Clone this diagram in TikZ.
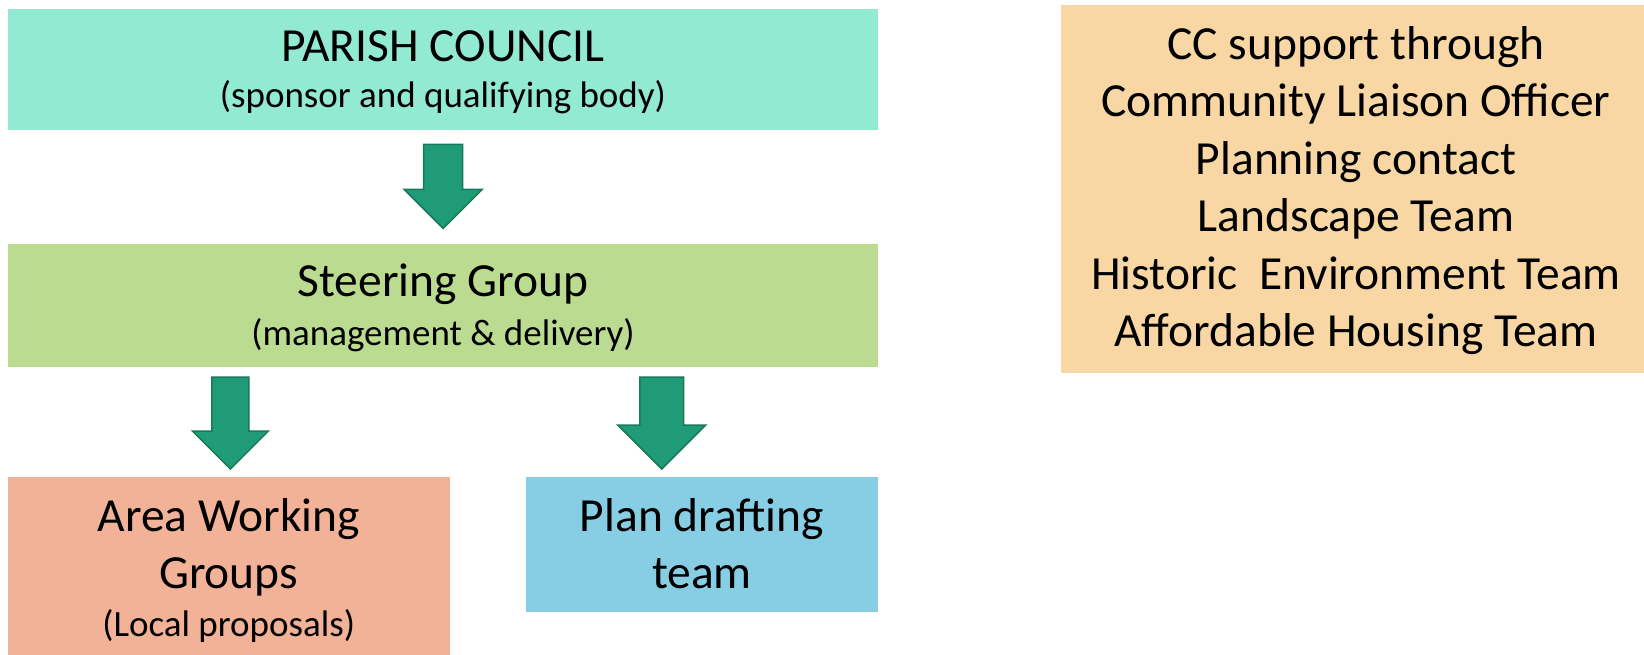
\documentclass[tikz,border=0pt]{standalone}
\usepackage{fontspec}
\setmainfont{Carlito}
\usepackage{tikz}
\usetikzlibrary{calc}
\usepackage{xcolor}

\definecolor{councilmint}{HTML}{93EAD3}
\definecolor{steeringgreen}{HTML}{BBDB91}
\definecolor{areasalmon}{HTML}{F1B297}
\definecolor{draftblue}{HTML}{87CEE4}
\definecolor{supportpeach}{HTML}{F8D7A4}
\definecolor{arrowfill}{HTML}{1F9B77}
\definecolor{arrowedge}{HTML}{17785A}

\begin{document}
\begin{tikzpicture}[x=1pt, y=-1pt,
  box/.style={rectangle, inner sep=0, anchor=north west},
  big/.style={inner sep=0, anchor=base, font=\fontsize{47.5}{57.5}\selectfont},
  small/.style={inner sep=0, anchor=base, font=\fontsize{37}{44}\selectfont},
  pics/downarrow/.style args={#1/#2/#3}{code={
    \filldraw[fill=arrowfill, draw=arrowedge, line width=1.5]
      (-#2/2,0) -- (#2/2,0) -- (#2/2,#1-#3/2) -- (#3/2,#1-#3/2) -- (0,#1)
      -- (-#3/2,#1-#3/2) -- (-#2/2,#1-#3/2) -- cycle;
  }}]
  \useasboundingbox (0,0) rectangle (1644,655);

  % coloured boxes
  \node[box, fill=councilmint, minimum width=870, minimum height=121.6] (council) at (8,8.4) {};
  \node[box, fill=steeringgreen, minimum width=870, minimum height=122.7] (steering) at (8,244) {};
  \node[box, fill=areasalmon, minimum width=441.3, minimum height=180] (area) at (8,477) {};
  \node[box, fill=draftblue, minimum width=352, minimum height=135] (drafting) at (526,477) {};
  \node[box, fill=supportpeach, minimum width=590, minimum height=368.1] (support) at (1061,4.6) {};

  % block arrows
  \pic at ($(council.south)+(0,14)$) {downarrow=84/39/78};
  \pic at ($(area.north)+(1.5,-100)$) {downarrow=92/37/76};
  \pic at ($(drafting.north)+(-40.5,-100)$) {downarrow=92/43.6/88};

  % texts
  \node[big] (councilName) at (443,61.7) {PARISH COUNCIL};
  \node[small] (councilRole) at (443,107.5) {(sponsor and qualifying body)};
  \node[big] (steeringName) at (443,296.7) {Steering Group};
  \node[small] (steeringRole) at (443,345) {(management \& delivery)};
  \node[big] (areaName) at (228.7,531.7) {Area Working};
  \node[big] (areaGroups) at (228.7,588) {Groups};
  \node[small] (areaRole) at (228.7,636) {(Local proposals)};
  \node[big] (draftName) at (702,531.7) {Plan drafting};
  \node[big] (draftTeam) at (702,588) {team};
  \node[big, align=center] (supportList) at (1356,346.8) {CC support through\\
    Community Liaison Officer\\ Planning contact\\ Landscape Team\\
    Historic\ \ Environment Team\\ Affordable Housing Team};
\end{tikzpicture}
\end{document}
